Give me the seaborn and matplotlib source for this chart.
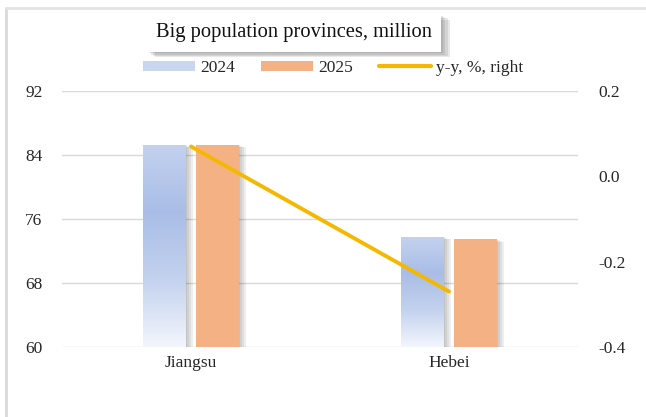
import numpy as np
import pandas as pd
import matplotlib
matplotlib.use('Agg')
import matplotlib.pyplot as plt
import matplotlib.patheffects as pe
from matplotlib.colors import LinearSegmentedColormap
from matplotlib.patches import Patch
from matplotlib.lines import Line2D
import seaborn as sns

# Data
provinces = ['Jiangsu', 'Hebei']
pop_2024 = [85.3, 73.8]
pop_2025 = [85.3, 73.5]
yy_change = [0.07, -0.27]
left_ticks = [60, 68, 76, 84, 92]
right_ticks = [-0.4, -0.2, 0.0, 0.2]

df = pd.DataFrame({
    'province': provinces * 2,
    'year': ['2024'] * len(provinces) + ['2025'] * len(provinces),
    'pop': pop_2024 + pop_2025,
})

sns.set_style('white')
plt.rcParams['font.family'] = ['Liberation Serif', 'DejaVu Serif']

fig = plt.figure(figsize=(6.46, 4.17), dpi=100)
ax = fig.add_axes([62 / 646, 1 - 347 / 417, 516 / 646, 256 / 417])

orange = '#f4b183'
blue_top = '#adc0e7'
gold = '#f5b800'
grid_c = '#d9d9d9'


def soft_shadow(dx, dy, alpha):
    # a few stacked shadows give a blurred look
    layers = []
    for k in range(1, 5):
        layers.append(pe.SimplePatchShadow(offset=(dx * k / 4, dy * k / 4),
                                           shadow_rgbFace='#444444', alpha=alpha))
    return layers + [pe.Normal()]


sns.barplot(data=df, x='province', y='pop', hue='year', ax=ax,
            palette={'2024': blue_top, '2025': orange},
            width=0.41, gap=0.2, legend=False, saturation=1, zorder=3)

for bar in ax.patches:
    bar.set_path_effects(soft_shadow(5, -2, 0.09))
    bar.set_edgecolor('none')

# gradient fill for 2024 bars
cmap = LinearSegmentedColormap.from_list('g', ['#f3f6fc', '#c3d2ee', '#a9bde6', '#c4d2ef'])
grad = np.linspace(0, 1, 256).reshape(-1, 1)
for bar in ax.containers[0]:
    x0, y0 = bar.get_x(), bar.get_y()
    w, h = bar.get_width(), bar.get_height()
    im = ax.imshow(grad, cmap=cmap, aspect='auto', origin='lower',
                   extent=[x0, x0 + w, 60, y0 + h], zorder=4)
    im.set_clip_path(bar)

ax.set_xlim(-0.5, 1.5)
ax.set_ylim(60, 92)
ax.set_yticks(left_ticks)
ax.yaxis.grid(True, color=grid_c, lw=1.0, zorder=0)
ax.set_axisbelow(True)
ax.set_xlabel('')
ax.set_ylabel('')
for s in ax.spines.values():
    s.set_visible(False)
ax.tick_params(axis='y', length=0, pad=14, labelsize=12.5)
ax.tick_params(axis='x', length=0, pad=6, labelsize=12.5)

ax2 = ax.twinx()
sns.lineplot(x=list(range(len(provinces))), y=yy_change, ax=ax2, color=gold, lw=2.8,
             zorder=5)
ax2.set_ylim(-0.4, 0.2)
ax2.set_yticks(right_ticks)
ax2.set_yticklabels([f'{t:.1f}' for t in right_ticks])
for s in ax2.spines.values():
    s.set_visible(False)
ax2.tick_params(axis='y', length=0, pad=15, labelsize=12.5)
ax2.set_ylabel('')

# title box
t = fig.text(294 / 646, 1 - 33 / 417, 'Big population provinces, million', ha='center', va='center',
             fontsize=14.8, color='#111111',
             bbox=dict(facecolor='white', edgecolor='none', boxstyle='square,pad=0.45'))
t.get_bbox_patch().set_path_effects(soft_shadow(6, -4, 0.12))

handles = [Patch(facecolor='#c9d6f0', edgecolor='none'),
           Patch(facecolor=orange, edgecolor='none'),
           Line2D([], [], color=gold, lw=3)]
fig.legend(handles, ['2024', '2025', 'y-y, %, right'], ncol=3, loc='center',
           bbox_to_anchor=(333 / 646, 1 - 68 / 417), frameon=False, fontsize=12.5,
           handlelength=3.0, handleheight=0.5, handletextpad=0.3, columnspacing=1.5)

# outer chart frame
fig.add_artist(Line2D([6 / 646, 6 / 646], [0, 1 - 8 / 417], transform=fig.transFigure,
                      color='#d9d9d9', lw=2))
fig.add_artist(Line2D([6 / 646, 1], [1 - 8 / 417, 1 - 8 / 417], transform=fig.transFigure,
                      color='#e3e3e3', lw=2))

fig.savefig('out.png', dpi=100)
